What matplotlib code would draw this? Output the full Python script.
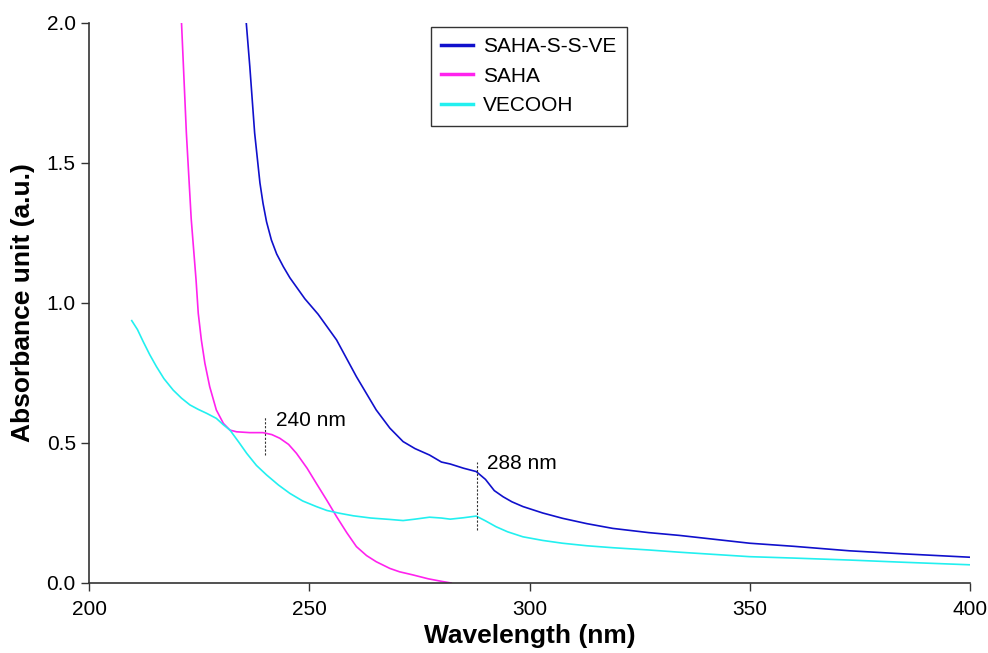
import matplotlib
matplotlib.use("Agg")
import matplotlib.pyplot as plt

plt.rcParams['font.family'] = ['Liberation Sans', 'DejaVu Sans']

# SAHA-S-S-VE
blue_x = [235.7, 236.5, 237.6, 238.8, 239.5, 240.3, 241.4, 242.6, 244.1, 245.6, 249, 252, 256.2, 260.7,
          265.2, 268.3, 271.3, 274, 277.3, 280, 282, 285, 287.9, 290, 292, 294, 296, 298.5, 303, 307.5,
          313, 318.9, 327, 334, 342, 350, 360, 372.6, 385, 400]
blue_y = [2.0, 1.845, 1.607, 1.429, 1.356, 1.29, 1.225, 1.175, 1.13, 1.09, 1.015, 0.96, 0.868, 0.737,
          0.618, 0.553, 0.505, 0.48, 0.457, 0.432, 0.425, 0.41, 0.398, 0.37, 0.33, 0.308, 0.29, 0.273, 0.25, 0.231,
          0.212, 0.195, 0.180, 0.170, 0.156, 0.142, 0.131, 0.115, 0.104, 0.092]

# SAHA
mag_x = [221.0, 222.1, 223.2, 224.3, 224.8, 225.5, 226.3, 227.4, 228.9, 230.5, 232, 233.5, 236.5, 239.5,
         241.5, 243.3, 245.3, 247.1, 249.5, 251.6, 254, 256.2, 258.5, 260.7, 263, 265.2, 268.3, 270.5,
         273.5, 277, 280, 282.2]
mag_y = [2.0, 1.607, 1.3, 1.082, 0.963, 0.868, 0.785, 0.701, 0.618, 0.570, 0.546, 0.540, 0.537, 0.537,
         0.530, 0.517, 0.495, 0.463, 0.41, 0.356, 0.295, 0.237, 0.18, 0.130, 0.098, 0.076, 0.052, 0.040,
         0.029, 0.015, 0.006, 0.0]

# VECOOH
cyan_x = [209.7, 211, 212.3, 213.8, 215.3, 217, 219.1, 221, 222.9, 224.8, 226.7, 228.9, 230.5, 232,
          234, 235.8, 238, 240.3, 243, 245.6, 248.5, 251.6, 254, 256.9, 260, 264, 268.3, 271.3, 274,
          277.3, 280, 282, 285, 287.9, 290, 292.4, 295, 298.5, 303, 307.5, 313, 318.9, 327, 334, 342,
          350, 360, 372.6, 385, 400]
cyan_y = [0.937, 0.905, 0.862, 0.815, 0.773, 0.73, 0.689, 0.66, 0.636, 0.62, 0.606, 0.588, 0.565, 0.546,
          0.503, 0.463, 0.42, 0.386, 0.35, 0.320, 0.293, 0.273, 0.259, 0.249, 0.24, 0.232, 0.227, 0.223, 0.228,
          0.235, 0.232, 0.228, 0.233, 0.239, 0.222, 0.201, 0.183, 0.165, 0.152, 0.142, 0.133, 0.126, 0.118, 0.110, 0.102,
          0.094, 0.089, 0.082, 0.074, 0.065]

series_labels = ["SAHA-S-S-VE", "SAHA", "VECOOH"]
x_ticks = [200, 250, 300, 350, 400]
y_ticks = [0.0, 0.5, 1.0, 1.5, 2.0]
peak_nm = [240, 288]
peak_span = [(0.457, 0.594), (0.189, 0.433)]
peak_text_y = [0.582, 0.425]

fig = plt.figure(figsize=(9.88, 6.53), dpi=100)
ax = fig.add_axes([0.0901, 0.1072, 0.8917, 0.8576])

ax.plot(blue_x, blue_y, color='#1010cc', lw=1.2, label=series_labels[0])
ax.plot(mag_x, mag_y, color='#ff22ee', lw=1.2, label=series_labels[1])
ax.plot(cyan_x, cyan_y, color='#22f0f0', lw=1.2, label=series_labels[2])

for nm, (y0, y1), ty in zip(peak_nm, peak_span, peak_text_y):
    ax.plot([nm, nm], [y0, y1], color='#333333', lw=0.8, ls=(0, (2, 1.5)))
    ax.text(nm + 2.4, ty, f"{nm} nm", fontsize=15, va='center', ha='left')

ax.set_xlim(200, 400)
ax.set_ylim(0, 2.0)
ax.set_xticks(x_ticks)
ax.set_xticklabels([str(v) for v in x_ticks])
ax.set_yticks(y_ticks)
ax.set_yticklabels([f"{v:.1f}" for v in y_ticks])
ax.tick_params(axis='both', labelsize=15, direction='out', length=6, width=1, color='#333333')
ax.tick_params(axis='x', pad=6)
for s in ['top', 'right']:
    ax.spines[s].set_visible(False)
for s in ['left', 'bottom']:
    ax.spines[s].set_color('#333333')
    ax.spines[s].set_linewidth(1.2)

ax.set_xlabel("Wavelength (nm)", fontsize=19, fontweight='bold', labelpad=4)
ax.set_ylabel("Absorbance unit (a.u.)", fontsize=19, fontweight='bold', labelpad=8)

leg = ax.legend(loc='upper left', bbox_to_anchor=(0.388, 0.993), fontsize=15, frameon=True,
                fancybox=False, edgecolor='black', handlelength=1.5, handletextpad=0.5,
                labelspacing=0.5, borderpad=0.5, borderaxespad=0)
leg.get_frame().set_linewidth(1.0)
for line in leg.get_lines():
    line.set_linewidth(2.5)

fig.savefig("out.png", dpi=100)
